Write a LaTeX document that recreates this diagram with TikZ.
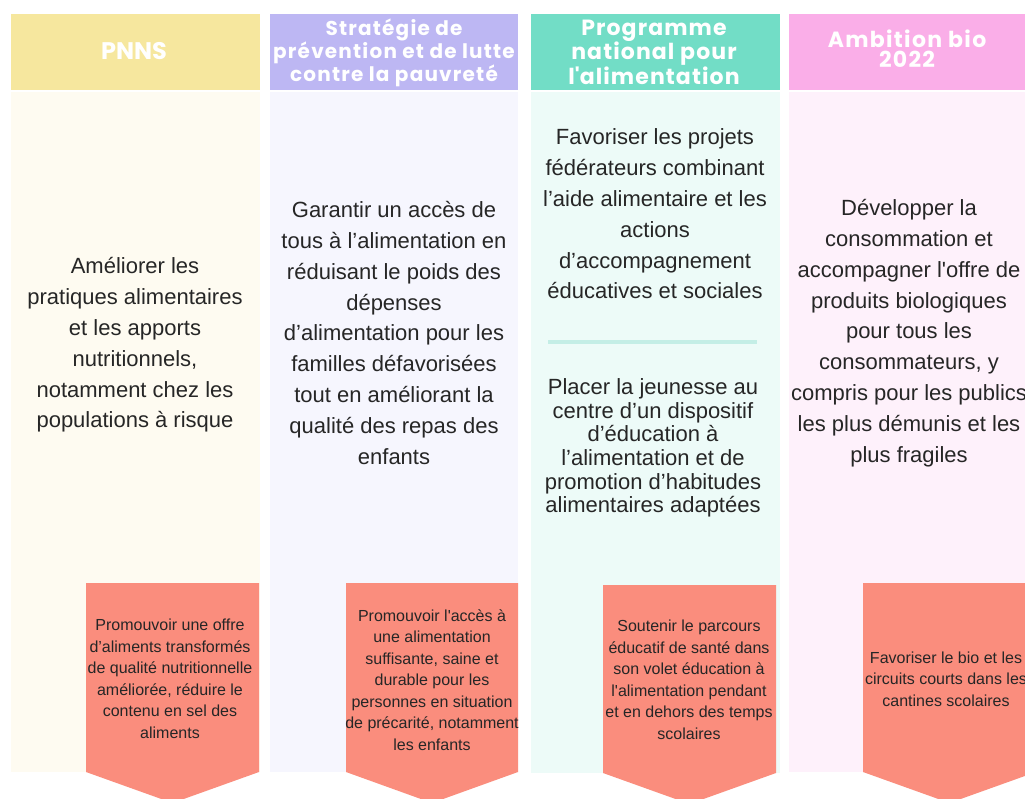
\documentclass[tikz,border=0pt]{standalone}
\usepackage{fontspec}
\setmainfont{Liberation Sans}
\newfontfamily\titrefont{Poppins}
\usetikzlibrary{positioning}

\definecolor{jaune}{HTML}{F6E79E}
\definecolor{jaunefond}{HTML}{FEFBF1}
\definecolor{lavande}{HTML}{BDB7F3}
\definecolor{lavandefond}{HTML}{F6F6FE}
\definecolor{turquoise}{HTML}{72DDC6}
\definecolor{turquoisefond}{HTML}{EDFBF8}
\definecolor{rose}{HTML}{FAAEE8}
\definecolor{rosefond}{HTML}{FEF1FB}
\definecolor{saumon}{HTML}{FA8D7D}
\definecolor{filet}{HTML}{C4EEE6}

\newcommand{\apos}{\textquotesingle}

\tikzset{
  entete/.style={text=white, align=center, inner sep=0pt},
  corps/.style={text=black!85, align=center, inner sep=0pt, font=\fontsize{22}{30.8}\selectfont},
  mesure/.style={text=black!85, align=center, inner sep=0pt, font=\fontsize{16}{21.5}\selectfont}
}

\begin{document}
\begin{tikzpicture}[x=1pt,y=-1pt]
	\useasboundingbox (0,0) rectangle (1025,799);
	\clip (0,0) rectangle (1025,799);
	\fill[white] (0,0) rectangle (1025,799);

	% colonnes
	\fill[jaune] (11,14) rectangle (260,90);
	\fill[jaunefond] (11,92) rectangle (260,772);
	\fill[lavande] (270,14) rectangle (518,90);
	\fill[lavandefond] (270,92) rectangle (518,772);
	\fill[turquoise] (531,14) rectangle (780,90);
	\fill[turquoisefond] (531,92) rectangle (780,773);
	\fill[rose] (789,14) rectangle (1037,90);
	\fill[rosefond] (789,92) rectangle (1037,772);

	% fleches
	\fill[saumon] (86,583) -- (259,583) -- (259,772) -- (172.5,803) -- (86,772) -- cycle;
	\fill[saumon] (346,583) -- (518,583) -- (518,772) -- (432,803) -- (346,772) -- cycle;
	\fill[saumon] (603,585) -- (776,585) -- (776,773) -- (689.5,804) -- (603,773) -- cycle;
	\fill[saumon] (863,583) -- (1036,583) -- (1036,772) -- (949.5,803) -- (863,772) -- cycle;

	\draw[filet, line width=4pt] (548,342) -- (757,342);

	% titres
	\node[entete, font=\titrefont\bfseries\fontsize{24}{24}\selectfont] (pnns) at (134,51) {PNNS};
	\node[entete, font=\titrefont\bfseries\addfontfeatures{LetterSpace=6}\fontsize{20}{18}\selectfont] (strategie) at (394,53) {Stratégie de\\prévention et de lutte\\contre la pauvreté};
	\node[entete, font=\titrefont\bfseries\addfontfeatures{LetterSpace=5}\fontsize{22}{18}\selectfont] (pna) at (654,52) {Programme\\national pour\\l\apos alimentation};
	\node[entete, font=\titrefont\bfseries\addfontfeatures{LetterSpace=6}\fontsize{22}{20}\selectfont] (bio) at (907,49) {Ambition bio\\2022};

	% objectifs
	\node[corps] (pnnsobj) at (135,345) {Améliorer les\\pratiques alimentaires\\et les apports\\nutritionnels,\\notamment chez les\\populations à risque};
	\node[corps] (strategieobj) at (394,333) {Garantir un accès de\\tous à l’alimentation en\\réduisant le poids des\\dépenses\\d’alimentation pour les\\familles défavorisées\\tout en améliorant la\\qualité des repas des\\enfants};
	\node[corps] (pnaobj) at (655,214) {Favoriser les projets\\fédérateurs combinant\\l’aide alimentaire et les\\actions\\d’accompagnement\\éducatives et sociales};
	\node[corps, font=\fontsize{22}{23.6}\selectfont] (pnaobjbis) at (653,448) {Placer la jeunesse au\\centre d’un dispositif\\d’éducation à\\l’alimentation et de\\promotion d’habitudes\\alimentaires adaptées};
	\node[corps] (bioobj) at (909,333) {Développer la\\consommation et\\accompagner l\apos offre de\\produits biologiques\\pour tous les\\consommateurs, y\\compris pour les publics\\les plus démunis et les\\plus fragiles};

	% mesures
	\node[mesure] (pnnsmes) at (170,679) {Promouvoir une offre\\d’aliments transformés\\de qualité nutritionnelle\\améliorée, réduire le\\contenu en sel des\\aliments};
	\node[mesure] (strategiemes) at (432,680) {Promouvoir l\apos accès à\\une alimentation\\suffisante, saine et\\durable pour les\\personnes en situation\\de précarité, notamment\\les enfants};
	\node[mesure] (pnames) at (689,680) {Soutenir le parcours\\éducatif de santé dans\\son volet éducation à\\l\apos alimentation pendant\\et en dehors des temps\\scolaires};
	\node[mesure] (biomes) at (946,679) {Favoriser le bio et les\\circuits courts dans les\\cantines scolaires};
\end{tikzpicture}
\end{document}
